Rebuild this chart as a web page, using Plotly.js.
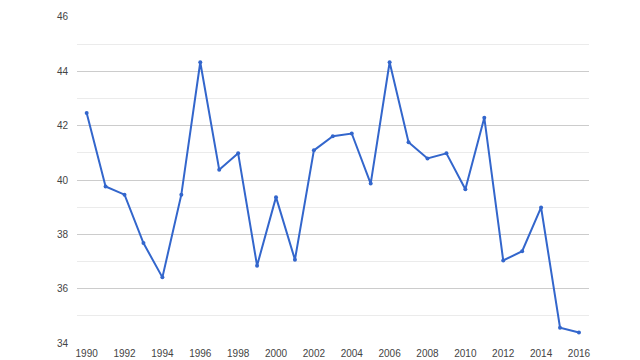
<!DOCTYPE html>
<html>
<head>
<meta charset="utf-8">
<script src="https://cdn.plot.ly/plotly-3.0.1.min.js"></script>
<style>html,body{margin:0;padding:0;background:#fff}#chart{width:640px;height:360px}</style>
</head>
<body>
<div id="chart"></div>
<script>
const years = [1990,1991,1992,1993,1994,1995,1996,1997,1998,1999,2000,2001,2002,2003,2004,2005,2006,2007,2008,2009,2010,2011,2012,2013,2014,2015,2016];
const values = [42.46,39.76,39.46,37.68,36.42,39.46,44.33,40.38,40.98,36.85,39.37,37.07,41.09,41.61,41.71,39.87,44.33,41.39,40.79,40.98,39.66,42.29,37.04,37.38,38.99,34.57,34.39];
const xTicks = [1990,1992,1994,1996,1998,2000,2002,2004,2006,2008,2010,2012,2014,2016];
const yTicks = [34,36,38,40,42,44,46];

Plotly.newPlot('chart', [{
  x: years, y: values, type: 'scatter', mode: 'lines+markers',
  line: {color: '#3366cc', width: 2},
  marker: {color: '#3366cc', size: 4},
  hoverinfo: 'x+y'
}], {
  width: 640, height: 360,
  margin: {l: 77, r: 51, t: 16, b: 16},
  paper_bgcolor: '#fff', plot_bgcolor: '#fff',
  font: {family: 'Liberation Sans, Arial, sans-serif', size: 10, color: '#444'},
  showlegend: false,
  xaxis: {
    range: [1989.49, 2016.53],
    tickvals: xTicks, ticktext: xTicks.map(String),
    showgrid: false, zeroline: false, showline: false,
    ticks: '', ticklabelstandoff: 2
  },
  yaxis: {
    range: [33.97, 46.03],
    tickvals: yTicks, ticktext: yTicks.map(String),
    showgrid: true, gridcolor: '#cccccc', gridwidth: 1,
    zeroline: false, showline: false, ticks: '',
    ticklabelstandoff: 8,
    minor: {dtick: 1, tick0: 34, showgrid: true, gridcolor: '#ebebeb', gridwidth: 1}
  }
}, {displayModeBar: false, staticPlot: true});
</script>
</body>
</html>
